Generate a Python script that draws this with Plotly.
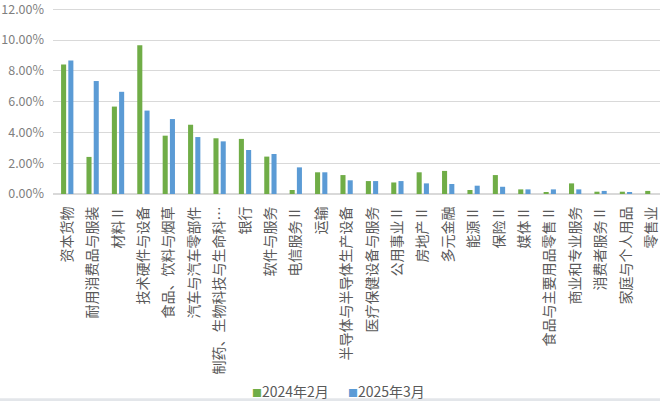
import plotly.graph_objects as go

categories = [
    "资本货物", "耐用消费品与服装", "材料Ⅱ", "技术硬件与设备", "食品、饮料与烟草",
    "汽车与汽车零部件", "制药、生物科技与生命科…", "银行", "软件与服务", "电信服务Ⅱ",
    "运输", "半导体与半导体生产设备", "医疗保健设备与服务", "公用事业Ⅱ", "房地产Ⅱ",
    "多元金融", "能源Ⅱ", "保险Ⅱ", "媒体Ⅱ", "食品与主要用品零售Ⅱ",
    "商业和专业服务", "消费者服务Ⅱ", "家庭与个人用品", "零售业",
]
series_2024_02 = [8.41, 2.41, 5.68, 9.66, 3.79, 4.50, 3.62, 3.58, 2.43, 0.26,
                  1.41, 1.23, 0.84, 0.75, 1.41, 1.50, 0.26, 1.23, 0.30, 0.08,
                  0.69, 0.15, 0.15, 0.20]
series_2025_03 = [8.67, 7.34, 6.64, 5.42, 4.87, 3.70, 3.42, 2.86, 2.60, 1.73,
                  1.41, 0.89, 0.84, 0.84, 0.69, 0.65, 0.54, 0.47, 0.30, 0.30,
                  0.30, 0.20, 0.08, 0.0]
series_names = ["2024年2月", "2025年3月"]
series_colors = ["#70AD47", "#5B9BD5"]
y_ticks = [0, 2, 4, 6, 8, 10, 12]
y_tick_text = [f"{v:.2f}%" for v in y_ticks]

FONT = "Noto Sans CJK SC"
fig = go.Figure()
for name, vals, col in zip(series_names, [series_2024_02, series_2025_03], series_colors):
    fig.add_trace(go.Bar(x=categories, y=vals, name=name,
                         marker=dict(color=col, line=dict(width=0))))

# legend drawn as text items beneath the chart
legend_x = [0.324, 0.482]
for name, col, lx in zip(series_names, series_colors, legend_x):
    fig.add_annotation(
        xref="paper", yref="paper", x=lx, y=-1.053, xanchor="left", yanchor="middle",
        text=f"<span style='color:{col};font-size:10px'>■</span>{name}", showarrow=False,
        font=dict(size=14, color="#595959", family=FONT),
    )

# light band along the bottom edge
fig.add_shape(type="rect", xref="paper", yref="paper", x0=-0.1, x1=1.01,
              y0=-1.12, y1=-1.092, fillcolor="#E3E6EA", line=dict(width=0), layer="below")

fig.update_layout(
    width=660, height=401,
    margin=dict(l=53, r=0, t=7, b=207, autoexpand=False),
    paper_bgcolor="white", plot_bgcolor="white",
    barmode="group", bargap=0.43, bargroupgap=0.3,
    font=dict(family=FONT, color="#595959", size=12),
    showlegend=False,
    xaxis=dict(
        type="category", range=[-0.56, 23.34], tickangle=-90, automargin=False,
        showgrid=False, showline=True, linecolor="#D9D9D9", linewidth=1,
        ticks="", ticklabelstandoff=6,
        tickfont=dict(size=14, color="#595959", family=FONT),
    ),
    yaxis=dict(
        range=[0, 12.15], tickvals=y_ticks, ticktext=y_tick_text, automargin=False,
        showgrid=True, gridcolor="#D9D9D9", gridwidth=1,
        zeroline=True, zerolinecolor="#D9D9D9", showline=False, ticks="",
        ticklabelstandoff=8, ticklabeloverflow="allow",
        tickfont=dict(size=12.5, color="#7F7F7F", family=FONT),
    ),
)

fig.write_html("out.html", config={"displayModeBar": False},
               post_script="document.body.style.margin='0px';")
